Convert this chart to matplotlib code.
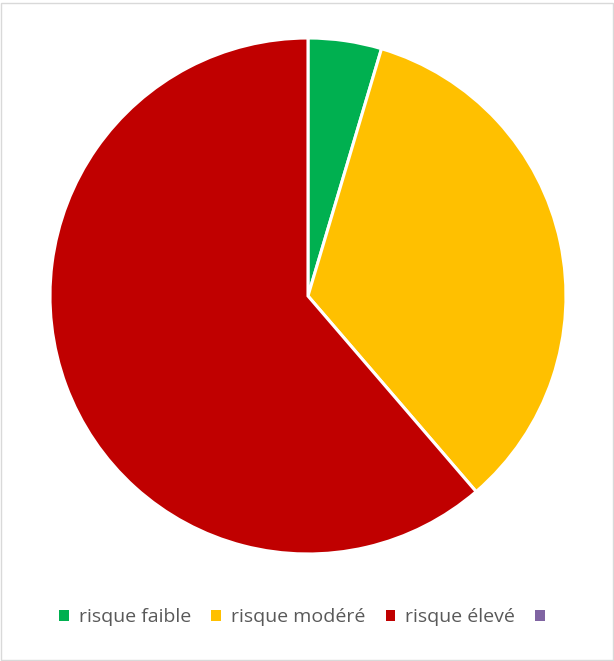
import matplotlib
matplotlib.use('Agg')
import matplotlib.pyplot as plt
from matplotlib.patches import Patch, Rectangle

# Data
labels = ['risque faible', 'risque modéré', 'risque élevé', '']
values = [4.6, 34.1, 61.3, 0]
colors = ['#00B050', '#FFC000', '#C00000', '#8064A2']

fig = plt.figure(figsize=(6.14, 6.61), dpi=100)
ax = fig.add_axes([0.0814, 0.1619, 0.8404, 0.7806])

# only non-zero wedges get drawn
vals = [v for v in values if v > 0]
cols = [c for v, c in zip(values, colors) if v > 0]
ax.pie(vals, colors=cols, startangle=90, counterclock=False,
       wedgeprops=dict(edgecolor='white', linewidth=2.2))
ax.set_xlim(-1, 1)
ax.set_ylim(-1, 1)
ax.set_aspect('equal')

# legend with all categories (including the empty one)
handles = [Patch(facecolor=c, edgecolor='none') for c in colors]
fig.legend(handles, labels, loc='center', bbox_to_anchor=(0.5, 0.066),
           ncol=4, frameon=False, handlelength=0.5, handleheight=0.5,
           handletextpad=0.5, columnspacing=1.05,
           prop={'family': 'Open Sans', 'size': 14}, labelcolor='#595959')

# light grey chart border
fig.patches.append(Rectangle((0.002, 0.002), 0.996, 0.994, transform=fig.transFigure,
                             fill=False, edgecolor='#D9D9D9', linewidth=1))

fig.savefig('out.png', dpi=100)
